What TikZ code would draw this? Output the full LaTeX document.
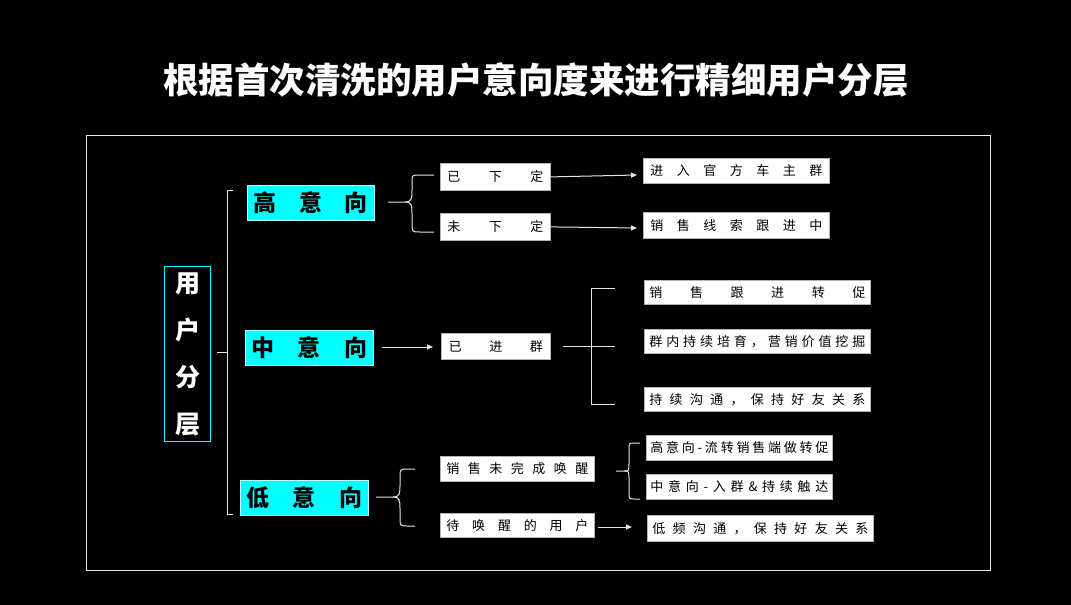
\documentclass[tikz,border=0pt]{standalone}
\usepackage{fontspec}
\setmainfont{Noto Sans CJK SC}
\usetikzlibrary{arrows.meta}
\definecolor{aqua}{RGB}{0,255,255}
\newcommand{\spr}[2]{\makebox[#1pt]{#2}}
\begin{document}
\begin{tikzpicture}[x=1pt,y=-1pt,
  wbox/.style={draw=gray!60,fill=white,line width=0.8pt,inner sep=0,anchor=north west,font=\fontsize{13}{13}\selectfont},
  cbox/.style={draw=white!70!aqua,fill=aqua,inner sep=0,anchor=north west,font=\fontsize{23}{23}\selectfont\bfseries},
  ln/.style={draw=white!80!gray,line width=1pt},
  arr/.style={ln,-{Triangle[length=6pt,width=5pt]}}]
\fill[black] (0,0) rectangle (1071,605);
\useasboundingbox (0,0) rectangle (1071,605);
\draw[white!85!gray,line width=0.8pt] (86,135) rectangle (990,570);
\node[white,font=\fontsize{35.5}{36}\selectfont\bfseries] (title) at (536,80) {根据首次清洗的用户意向度来进行精细用户分层};
% root
\node[draw=aqua,line width=1pt,minimum width=46pt,minimum height=175pt,inner sep=0,anchor=north west,text=white,font=\fontsize{25}{47}\selectfont\bfseries,align=center] (root) at (164,266) {用\\户\\分\\层};
% left bracket
\coordinate (lb) at (217,352);
\draw[ln] (233,190) -- (227,190) -- (227,514) -- (233,514);
\draw[ln] (lb) -- (227,352);
% level boxes
\node[cbox,minimum width=127pt,minimum height=35pt] (hi) at (247,185) {\spr{114}{高\hfill 意\hfill 向}};
\node[cbox,minimum width=128pt,minimum height=35pt] (mid) at (245,330) {\spr{116}{中\hfill 意\hfill 向}};
\node[cbox,minimum width=128pt,minimum height=35pt] (lo) at (240,480) {\spr{116}{低\hfill 意\hfill 向}};
% high
\node[wbox,minimum width=110pt,minimum height=27pt] (h1) at (440,163) {\spr{96}{已\hfill 下\hfill 定}};
\node[wbox,minimum width=110pt,minimum height=27pt] (h2) at (440,213) {\spr{96}{未\hfill 下\hfill 定}};
\draw[ln] (388,202) -- (405,202) .. controls (412,202) and (412,198) .. (412,190) -- (412,182) .. controls (412,175) .. (420,175) -- (434,175);
\draw[ln] (405,202) .. controls (412,202) and (412,206) .. (412,214) -- (412,224) .. controls (412,232) .. (420,232) -- (434,232);
\node[wbox,minimum width=186pt,minimum height=25pt] (h1r) at (643,158) {\spr{172}{进\hfill 入\hfill 官\hfill 方\hfill 车\hfill 主\hfill 群}};
\node[wbox,minimum width=186pt,minimum height=26pt] (h2r) at (643,212) {\spr{172}{销\hfill 售\hfill 线\hfill 索\hfill 跟\hfill 进\hfill 中}};
\draw[arr] (h1.east) -- (637,175);
\draw[arr] (h2.east) -- (637,228);
% mid
\node[wbox,minimum width=109pt,minimum height=26pt] (m1) at (441,333) {\spr{94}{已\hfill 进\hfill 群}};
\draw[arr] (382,347) -- (433,347);
\draw[ln] (563,346) -- (615,346);
\draw[ln] (615,288) -- (591,288) -- (591,404) -- (615,404);
\node[wbox,minimum width=226pt,minimum height=24pt] (m1a) at (644,280) {\spr{216}{销\hfill 售\hfill 跟\hfill 进\hfill 转\hfill 促}};
\node[wbox,minimum width=226pt,minimum height=24pt] (m1b) at (644,329) {\spr{216}{群\hfill 内\hfill 持\hfill 续\hfill 培\hfill 育\hfill ，\hfill 营\hfill 销\hfill 价\hfill 值\hfill 挖\hfill 掘}};
\node[wbox,minimum width=226pt,minimum height=24pt] (m1c) at (644,387) {\spr{216}{持\hfill 续\hfill 沟\hfill 通\hfill ，\hfill 保\hfill 持\hfill 好\hfill 友\hfill 关\hfill 系}};
% low
\node[wbox,minimum width=154pt,minimum height=25pt] (l1) at (440,456) {\spr{142}{销\hfill 售\hfill 未\hfill 完\hfill 成\hfill 唤\hfill 醒}};
\node[wbox,minimum width=154pt,minimum height=24pt] (l2) at (440,513) {\spr{142}{待\hfill 唤\hfill 醒\hfill 的\hfill 用\hfill 户}};
\draw[ln] (376,497) -- (393,497) .. controls (400,497) and (400,493) .. (400,485) -- (400,477) .. controls (400,469) .. (408,469) -- (415,469);
\draw[ln] (393,497) .. controls (400,497) and (400,501) .. (400,509) -- (400,518) .. controls (400,526) .. (408,526) -- (415,526);
\draw[ln] (616,471) -- (624,471) .. controls (629,471) .. (629,462) -- (629,450) .. controls (629,443) .. (634,443) -- (640,443);
\draw[ln] (624,471) .. controls (629,471) .. (629,480) -- (629,492) .. controls (629,499) .. (634,499) -- (640,499);
\node[wbox,minimum width=186pt,minimum height=25pt] (l1a) at (646,435) {\spr{178}{高\hfill 意\hfill 向\hfill -\hfill 流\hfill 转\hfill 销\hfill 售\hfill 端\hfill 做\hfill 转\hfill 促}};
\node[wbox,minimum width=186pt,minimum height=25pt] (l1b) at (646,474) {\spr{178}{中\hfill 意\hfill 向\hfill -\hfill 入\hfill 群\hfill \&\hfill 持\hfill 续\hfill 触\hfill 达}};
\node[wbox,minimum width=226pt,minimum height=26pt] (l2a) at (647,515) {\spr{216}{低\hfill 频\hfill 沟\hfill 通\hfill ，\hfill 保\hfill 持\hfill 好\hfill 友\hfill 关\hfill 系}};
\draw[arr] (598,527) -- (632,527);
\end{tikzpicture}
\end{document}
